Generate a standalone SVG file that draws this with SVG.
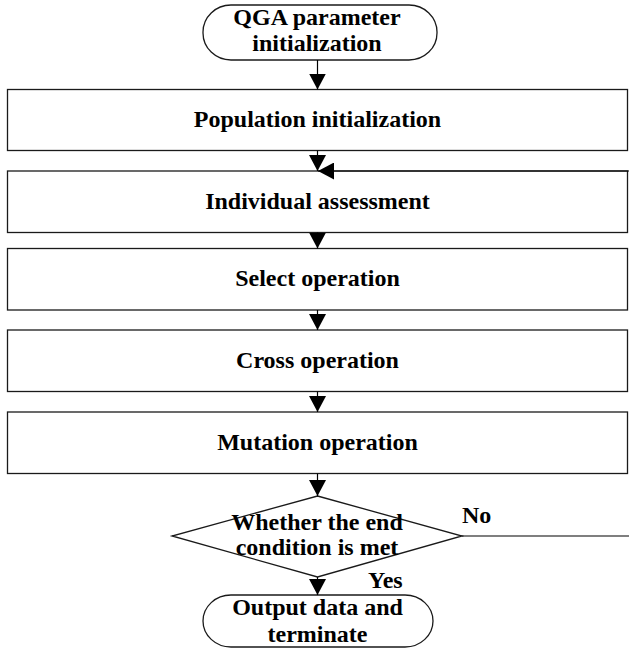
<svg xmlns="http://www.w3.org/2000/svg" width="629" height="648" viewBox="0 0 629 648">
<style>
.box{fill:#fff;stroke:#1a1a1a;stroke-width:1.3}
.t{font-family:"Liberation Serif","Times New Roman",serif;font-weight:bold;font-size:24px;fill:#000;text-anchor:middle}
.l{font-family:"Liberation Serif","Times New Roman",serif;font-weight:bold;font-size:24px;fill:#000}
.c{fill:none;stroke:#000;stroke-width:1.2}
</style>
<defs>
<marker id="ah" markerUnits="userSpaceOnUse" markerWidth="17" markerHeight="17" refX="16" refY="8.5" orient="auto">
<path d="M0,0 L16,8.5 L0,17 Z" fill="#000"/>
</marker>
</defs>
<rect width="629" height="648" fill="#fff"/>
<g id="start">
<rect class="box" x="203" y="5" width="234" height="55" rx="28" ry="27"/>
<text class="t" x="317" y="25">QGA parameter</text>
<text class="t" x="317" y="51">initialization</text>
</g>
<g id="pop">
<rect class="box" x="7.5" y="89.5" width="620" height="61"/>
<text class="t" x="317.5" y="127">Population initialization</text>
</g>
<g id="assess">
<rect class="box" x="7.5" y="171" width="620" height="61.5"/>
<text class="t" x="317.5" y="208.5">Individual assessment</text>
</g>
<g id="select">
<rect class="box" x="7.5" y="248.5" width="620" height="61.5"/>
<text class="t" x="317.5" y="286">Select operation</text>
</g>
<g id="cross">
<rect class="box" x="7.5" y="330" width="620" height="61.5"/>
<text class="t" x="317.5" y="367.5">Cross operation</text>
</g>
<g id="mutation">
<rect class="box" x="7.5" y="412" width="620" height="61.5"/>
<text class="t" x="317.5" y="449.5">Mutation operation</text>
</g>
<g id="decision">
<polygon class="box" points="317.5,496 462,536 317.5,577 172,536"/>
<text class="t" x="317" y="530">Whether the end</text>
<text class="t" x="317" y="555">condition is met</text>
</g>
<g id="end">
<rect class="box" x="203" y="595" width="230" height="52" rx="28" ry="26"/>
<text class="t" x="317.5" y="615">Output data and</text>
<text class="t" x="317.5" y="641.5">terminate</text>
</g>
<g id="connectors">
<line class="c" x1="317.5" y1="60" x2="317.5" y2="89.5" marker-end="url(#ah)"/>
<line class="c" x1="317.5" y1="150.5" x2="317.5" y2="171" marker-end="url(#ah)"/>
<line class="c" x1="317.5" y1="232.5" x2="317.5" y2="248.5" marker-end="url(#ah)"/>
<line class="c" x1="317.5" y1="310" x2="317.5" y2="330" marker-end="url(#ah)"/>
<line class="c" x1="317.5" y1="391.5" x2="317.5" y2="412" marker-end="url(#ah)"/>
<line class="c" x1="317.5" y1="473.5" x2="317.5" y2="496" marker-end="url(#ah)"/>
<line class="c" x1="317.5" y1="577" x2="317.5" y2="595" marker-end="url(#ah)"/>
<path class="c" d="M462,536 H680 V171 H318" marker-end="url(#ah)"/>
<text class="l" x="462" y="523">No</text>
<text class="l" x="368" y="588">Yes</text>
</g>
</svg>
